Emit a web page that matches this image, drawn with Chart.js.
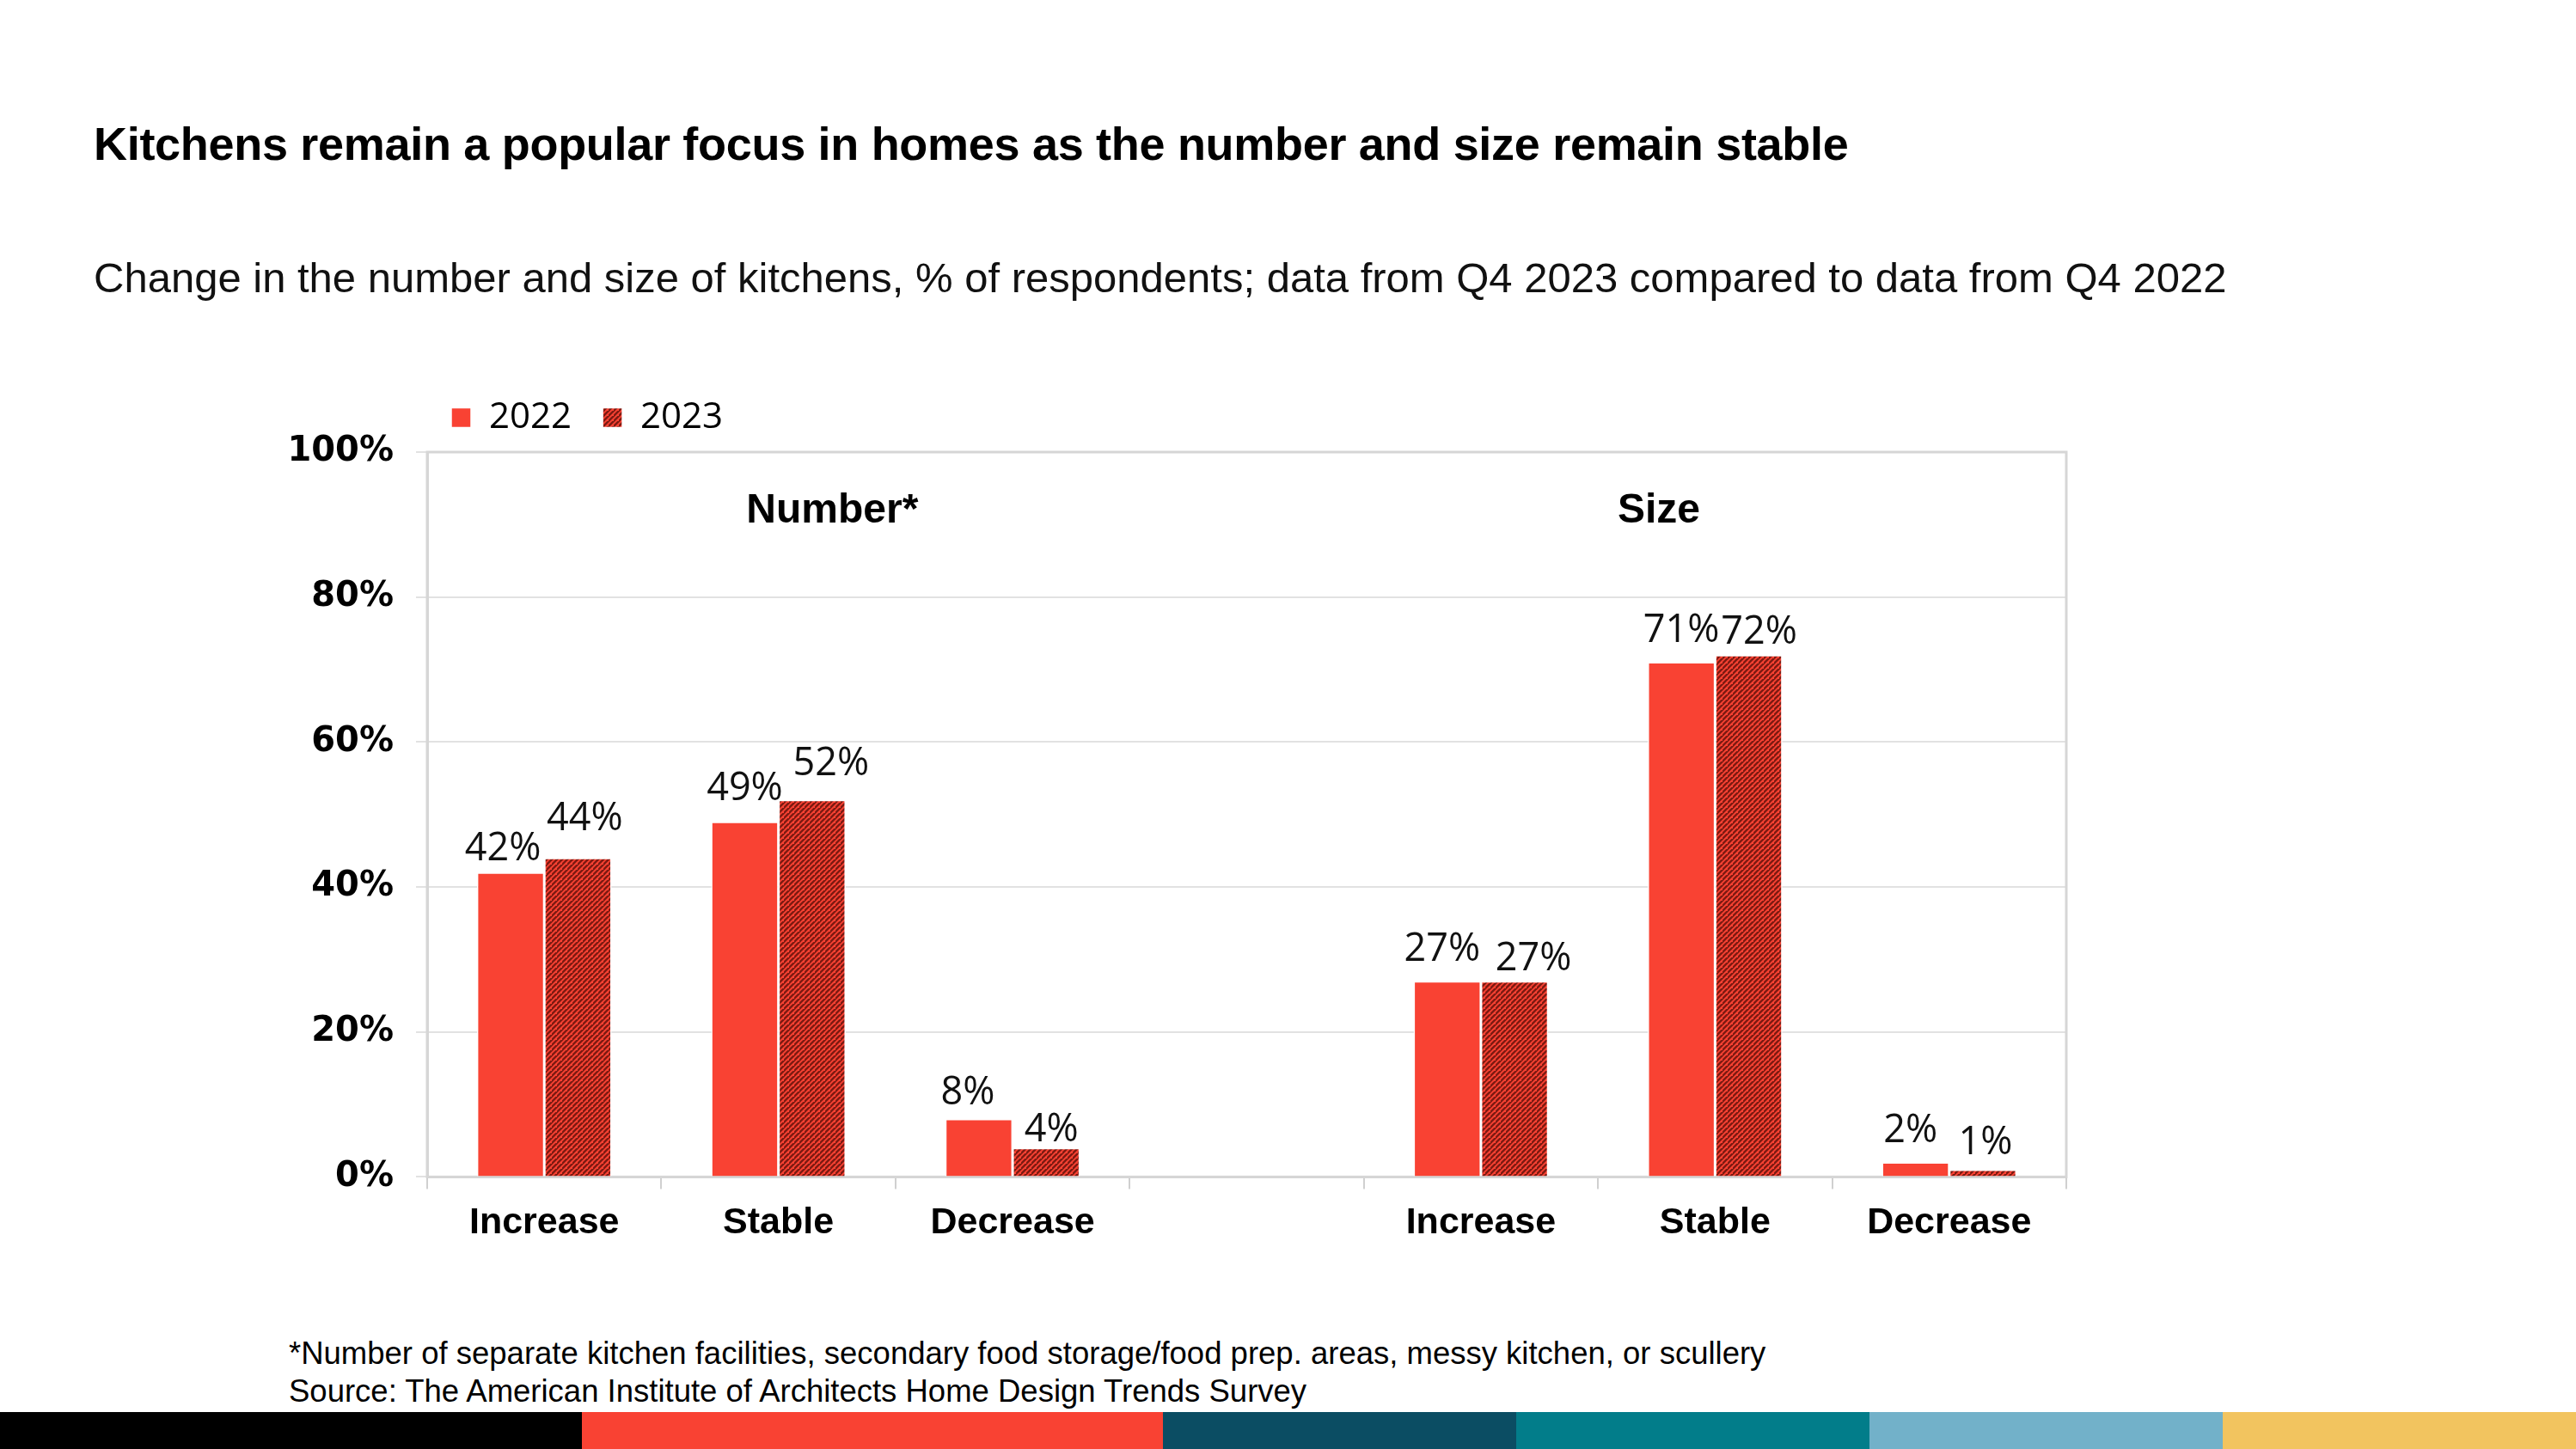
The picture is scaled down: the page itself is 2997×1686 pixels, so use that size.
<!DOCTYPE html>
<html>
<head>
<meta charset="utf-8">
<script src="https://cdn.jsdelivr.net/npm/chart.js@4/dist/chart.umd.min.js"></script>
<style>
  html, body { margin: 0; padding: 0; background: #fff; }
  body { width: 2997px; height: 1686px; position: relative; overflow: hidden; font-family: "Liberation Sans", Arial, sans-serif; }
  #title { position: absolute; left: 109px; top: 136px; font-family: "Liberation Sans", Arial, sans-serif; font-weight: bold; font-size: 54px; color: #000; white-space: nowrap; letter-spacing: -0.3px; }
  #subtitle { position: absolute; left: 109px; top: 295px; font-family: "Liberation Sans", Arial, sans-serif; font-size: 49px; color: #111; white-space: nowrap; }
  #wrap { position: absolute; left: 0; top: 418px; width: 2700px; height: 1045px; }
  #foot { position: absolute; left: 336px; top: 1553px; font-family: "Liberation Sans", Arial, sans-serif; font-size: 36.5px; line-height: 44px; color: #000; white-space: nowrap; }
  #bar { position: absolute; left: 0; top: 1643px; width: 2997px; height: 43px; display: flex; }
  #bar div { height: 100%; }
</style>
</head>
<body>
<div id="title">Kitchens remain a popular focus in homes as the number and size remain stable</div>
<div id="subtitle">Change in the number and size of kitchens, % of respondents; data from Q4 2023 compared to data from Q4 2022</div>
<div id="wrap"><canvas id="c" width="2700" height="1045"></canvas></div>
<div id="foot">*Number of separate kitchen facilities, secondary food storage/food prep. areas, messy kitchen, or scullery<br>Source: The American Institute of Architects Home Design Trends Survey</div>
<div id="bar">
  <div style="width:677px;background:#000000"></div>
  <div style="width:676px;background:#f94233"></div>
  <div style="width:411px;background:#0b4d63"></div>
  <div style="width:411px;background:#027d8a"></div>
  <div style="width:411px;background:#72b1c9"></div>
  <div style="width:411px;background:#f2c45f"></div>
</div>
<script>
// ---- data ----
const categories = ['Increase', 'Stable', 'Decrease', '', 'Increase', 'Stable', 'Decrease'];
const values2022 = [42, 49, 8, null, 27, 71, 2];
const values2023 = [44, 52, 4, null, 27, 72, 1];
const seriesNames = ['2022', '2023'];
const yTicks = [0, 20, 40, 60, 80, 100];
const groupTitles = ['Number*', 'Size'];

// ---- label placement (style, not data) ----
const groupTitleAt = [1.23, 4.76];   // category-index positions of the group headings
const groupTitleValue = 91.8;        // y-value of the group headings
const labelDx = [[-9, 0, -13, 0, -6, 0, -6], [8, 22, 6, 0, 22, 12, 3]];
const labelGap = [[14, 25, 17, 0, 24, 24, 24], [32, 29, 8, 0, 13, 13, 18]];

const RED = '#f94233';
const DARK = '#7d1a12';

function makeStripe() {
  const s = 6;
  const p = document.createElement('canvas');
  p.width = s; p.height = s;
  const g = p.getContext('2d');
  g.fillStyle = RED;
  g.fillRect(0, 0, s, s);
  g.strokeStyle = DARK;
  g.lineWidth = 2.4;
  g.beginPath();
  g.moveTo(-1, s + 1); g.lineTo(s + 1, -1);
  g.moveTo(-1 - s, s + 1); g.lineTo(1, -1);
  g.moveTo(s - 1, 2 * s + 1); g.lineTo(2 * s + 1, s - 1);
  g.stroke();
  return document.getElementById('c').getContext('2d').createPattern(p, 'repeat');
}
const stripe = makeStripe();

const boxPlugin = {
  id: 'box',
  afterLayout(chart) {
    // nudge legend to the reference position
    const L = chart.legend;
    if (L) { L.top -= 9; L.bottom -= 9; L.left -= 8; L.right -= 8; }
  },
  beforeDatasetsDraw(chart) {
    const a = chart.chartArea, ctx = chart.ctx;
    ctx.save();
    ctx.strokeStyle = '#d6d6d6';
    ctx.lineWidth = 3;
    ctx.strokeRect(a.left, a.top, a.right - a.left, a.bottom - a.top);
    ctx.restore();
  }
};

const labelPlugin = {
  id: 'vlabels',
  afterDatasetsDraw(chart) {
    const ctx = chart.ctx;
    ctx.save();
    ctx.font = '45px "Open Sans", sans-serif';
    ctx.fillStyle = '#111';
    ctx.textAlign = 'center';
    ctx.textBaseline = 'alphabetic';
    chart.data.datasets.forEach((ds, di) => {
      chart.getDatasetMeta(di).data.forEach((el, i) => {
        const v = ds.data[i];
        if (v === null || v === undefined) return;
        ctx.fillText(v + '%', el.x + labelDx[di][i], el.y - labelGap[di][i]);
      });
    });
    // group headings
    const xs = chart.scales.x, ys = chart.scales.y;
    ctx.font = 'bold 48px "Liberation Sans", Arial, sans-serif';
    ctx.fillStyle = '#000';
    ctx.textBaseline = 'middle';
    groupTitles.forEach((t, k) => {
      ctx.fillText(t, xs.getPixelForValue(groupTitleAt[k]), ys.getPixelForValue(groupTitleValue));
    });
    ctx.restore();
  }
};

new Chart(document.getElementById('c'), {
  type: 'bar',
  data: {
    labels: categories,
    datasets: [
      { label: seriesNames[0], data: values2022, backgroundColor: RED, borderColor: '#ffffff', borderWidth: 1.5 },
      { label: seriesNames[1], data: values2023, backgroundColor: stripe, borderColor: '#ffffff', borderWidth: 1.5 }
    ]
  },
  options: {
    responsive: false,
    animation: false,
    devicePixelRatio: 1,
    layout: { padding: { left: 300, right: 296, top: 20, bottom: 0 } },
    datasets: { bar: { categoryPercentage: 0.575, barPercentage: 1.0 } },
    plugins: {
      legend: {
        display: true,
        position: 'top',
        align: 'start',
        fullSize: false,
        labels: {
          boxWidth: 23, boxHeight: 23, padding: 36,
          color: '#000',
          font: { family: '"Open Sans", sans-serif', size: 42 }
        }
      },
      tooltip: { enabled: false },
      title: { display: false }
    },
    scales: {
      x: {
        offset: true,
        grid: { offset: true, drawOnChartArea: false, drawTicks: true, tickLength: 14, color: '#d0d0d0', lineWidth: 2 },
        border: { display: true, color: '#c8c8c8', width: 3 },
        ticks: { color: '#000', padding: 14, font: { family: '"Liberation Sans", Arial, sans-serif', weight: 'bold', size: 43 }, maxRotation: 0, autoSkip: false }
      },
      y: {
        min: 0, max: 100,
        afterFit(s) { s.width = 197; },
        afterBuildTicks(s) { s.ticks = yTicks.map(v => ({ value: v })); },
        grid: { color: '#e2e2e2', lineWidth: 2, drawTicks: true, tickLength: 13 },
        border: { display: true, color: '#d6d6d6', width: 3 },
        ticks: { color: '#000', padding: 26, font: { family: '"DejaVu Sans", sans-serif', weight: 'bold', size: 40 }, callback: v => v + '%' }
      }
    }
  },
  plugins: [boxPlugin, labelPlugin]
});
</script>
</body>
</html>
